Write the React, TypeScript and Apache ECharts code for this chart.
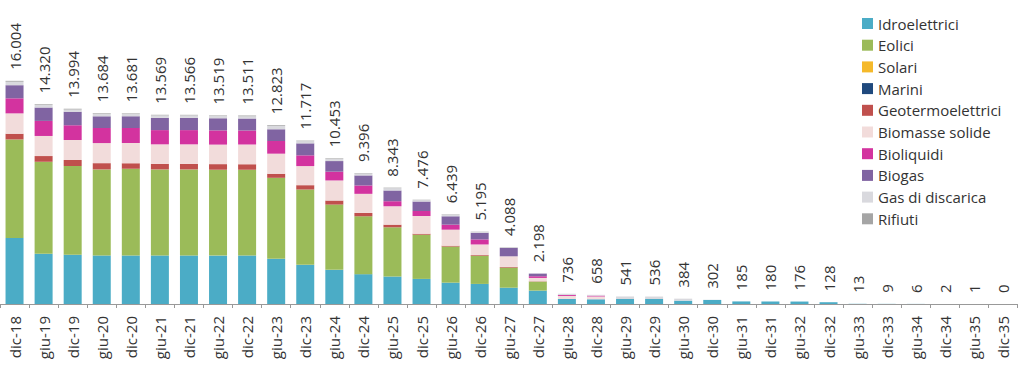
import { useEffect, useRef } from "react";
import * as echarts from "echarts";

const categories = [
  "dic-18", "giu-19", "dic-19", "giu-20", "dic-20", "giu-21", "dic-21", "giu-22", "dic-22",
  "giu-23", "dic-23", "giu-24", "dic-24", "giu-25", "dic-25", "giu-26", "dic-26", "giu-27",
  "dic-27", "giu-28", "dic-28", "giu-29", "dic-29", "giu-30", "dic-30", "giu-31", "dic-31",
  "giu-32", "dic-32", "giu-33", "dic-33", "giu-34", "dic-34", "giu-35", "dic-35",
];

const totals = [
  16004, 14320, 13994, 13684, 13681, 13569, 13566, 13519, 13511, 12823, 11717, 10453, 9396,
  8343, 7476, 6439, 5195, 4088, 2198, 736, 658, 541, 536, 384, 302, 185, 180, 176, 128, 13,
  9, 6, 2, 1, 0,
];

const idroelettrici = [
  4740, 3600, 3530, 3480, 3480, 3480, 3480, 3470, 3470, 3240, 2810, 2450, 2140, 1970, 1800,
  1530, 1440, 1170, 960, 360, 340, 360, 360, 240, 290, 185, 180, 176, 128, 13, 9, 6, 2, 1, 0,
];
const eolici = [
  7060, 6600, 6360, 6170, 6220, 6170, 6170, 6160, 6160, 5810, 5400, 4680, 4150, 3530, 3170,
  2590, 2020, 1440, 650, 0, 0, 0, 0, 0, 0, 0, 0, 0, 0, 0, 0, 0, 0, 0, 0,
];
const solari = [
  0, 0, 0, 0, 0, 0, 0, 0, 0, 0, 0, 0, 0, 0, 0, 0, 0, 0, 0, 0, 0, 0, 0, 0, 0, 0, 0, 0, 0, 0,
  0, 0, 0, 0, 0,
];
const marini = [
  0, 0, 0, 0, 0, 0, 0, 0, 0, 0, 0, 0, 0, 0, 0, 0, 0, 0, 0, 0, 0, 0, 0, 0, 0, 0, 0, 0, 0, 0,
  0, 0, 0, 0, 0,
];
const geotermoelettrici = [
  410, 410, 430, 450, 400, 400, 400, 400, 400, 290, 310, 290, 240, 190, 70, 60, 50, 50, 20,
  0, 0, 0, 0, 0, 0, 0, 0, 0, 0, 0, 0, 0, 0, 0, 0,
];
const biomasseSolide = [
  1460, 1440, 1440, 1440, 1440, 1400, 1400, 1400, 1400, 1440, 1370, 1440, 1370, 1320, 1270,
  1150, 760, 760, 240, 220, 200, 0, 0, 0, 0, 0, 0, 0, 0, 0, 0, 0, 0, 0, 0,
];
const bioliquidi = [
  1080, 1080, 1060, 1080, 1080, 1020, 1020, 1020, 1010, 910, 770, 630, 600, 360, 360, 360,
  360, 0, 120, 70, 60, 0, 0, 0, 0, 0, 0, 0, 0, 0, 0, 0, 0, 0, 0,
];
const biogas = [
  940, 960, 960, 840, 840, 880, 880, 870, 870, 840, 860, 760, 720, 770, 680, 600, 480, 600,
  190, 0, 0, 0, 0, 0, 0, 0, 0, 0, 0, 0, 0, 0, 0, 0, 0,
];
const gasDiscarica = [
  250, 180, 170, 180, 180, 175, 175, 160, 160, 240, 160, 165, 145, 170, 100, 125, 70, 55, 14,
  86, 58, 181, 176, 144, 12, 0, 0, 0, 0, 0, 0, 0, 0, 0, 0,
];
const rifiuti = [
  64, 50, 44, 44, 41, 44, 41, 39, 41, 53, 37, 38, 31, 33, 26, 24, 15, 13, 4, 0, 0, 0, 0, 0,
  0, 0, 0, 0, 0, 0, 0, 0, 0, 0, 0,
];

const seriesDefs = [
  { name: "Idroelettrici", data: idroelettrici, color: "#4bacc6" },
  { name: "Eolici", data: eolici, color: "#9bbb59" },
  { name: "Solari", data: solari, color: "#f5b92a" },
  { name: "Marini", data: marini, color: "#1f497d" },
  { name: "Geotermoelettrici", data: geotermoelettrici, color: "#c0504d" },
  { name: "Biomasse solide", data: biomasseSolide, color: "#f2dcdb" },
  { name: "Bioliquidi", data: bioliquidi, color: "#d3339f" },
  { name: "Biogas", data: biogas, color: "#8064a2" },
  { name: "Gas di discarica", data: gasDiscarica, color: "#d9d9de" },
  { name: "Rifiuti", data: rifiuti, color: "#a5a5a5" },
];

const fmt = (v: number) => String(v).replace(/\B(?=(\d{3})+(?!\d))/g, ".");

export default function App() {
  const ref = useRef<HTMLDivElement>(null);
  useEffect(() => {
    const chart = echarts.init(ref.current!, null, { renderer: "svg" });
    const font = "'Open Sans', sans-serif";
    chart.setOption({
      animation: false,
      textStyle: { fontFamily: font },
      grid: { left: -3, top: 0, width: 1020.5, bottom: 68, containLabel: false },
      legend: {
        data: seriesDefs.map((s) => s.name),
        orient: "vertical",
        left: 857,
        top: 11,
        itemWidth: 11,
        itemHeight: 11,
        itemGap: 6.7,
        icon: "rect",
        selectedMode: false,
        textStyle: { fontSize: 15, color: "#333", fontFamily: font, lineHeight: 15 },
      },
      xAxis: {
        type: "category",
        data: categories,
        axisLine: { lineStyle: { color: "#999", width: 1 } },
        axisTick: { show: true, length: 4, lineStyle: { color: "#999" } },
        axisLabel: { rotate: 90, fontSize: 15, color: "#333", margin: 12, interval: 0, fontFamily: font },
      },
      yAxis: { type: "value", show: false, min: 0, max: 21800 },
      series: [
        ...seriesDefs.map((s) => ({
          name: s.name,
          type: "bar",
          stack: "tot",
          data: s.data,
          barWidth: 18,
          barGap: "-100%",
          itemStyle: { color: s.color },
        })),
        {
          name: "Totale",
          type: "bar",
          data: totals,
          barWidth: 18,
          barGap: "-100%",
          silent: true,
          itemStyle: { color: "rgba(0,0,0,0)" },
          z: 10,
          label: {
            show: true,
            position: "top",
            rotate: 90,
            align: "left",
            verticalAlign: "middle",
            distance: 11,
            fontSize: 15,
            color: "#333",
            fontFamily: font,
            formatter: (p: any) => fmt(p.value),
          },
        },
      ],
    });
    return () => chart.dispose();
  }, []);
  return (
    <div
      ref={ref}
      style={{ position: "absolute", left: 0, top: 0, width: 1024, height: 372 }}
    />
  );
}
